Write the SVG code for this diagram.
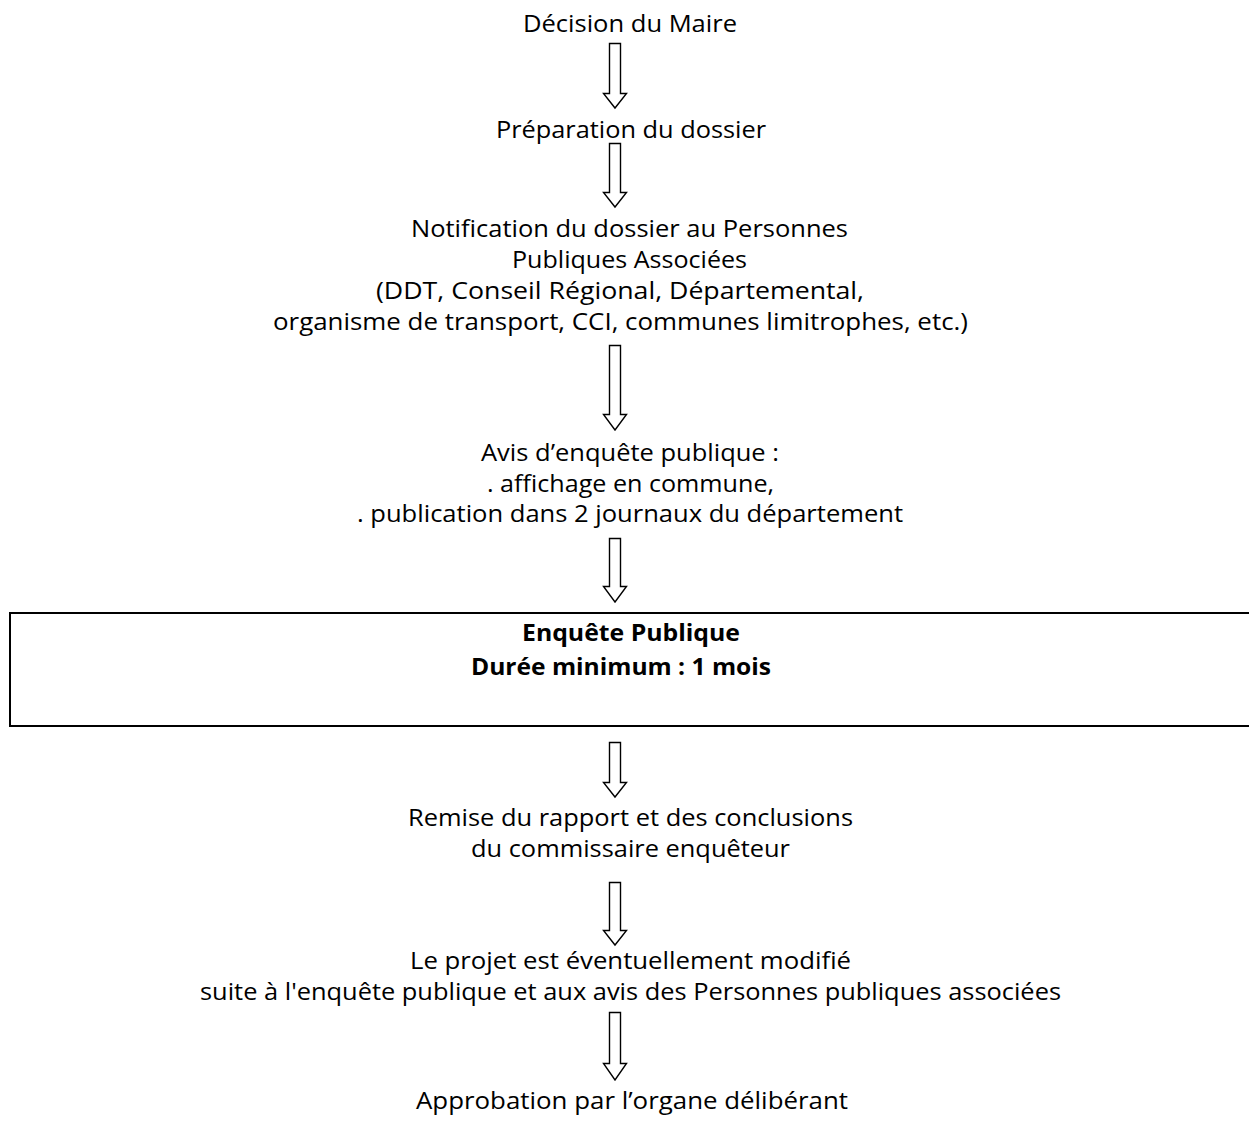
<svg xmlns="http://www.w3.org/2000/svg" width="1249" height="1122" viewBox="0 0 1249 1122">
<style>
  text { font-family: "Open Sans", "Liberation Sans", sans-serif; font-size: 24px; fill: #000; }
  .b { font-weight: bold; }
  .arrow { fill: #fff; stroke: #000; stroke-width: 1.4; stroke-linejoin: miter; }
  .box { fill: none; stroke: #000; stroke-width: 2; }
</style>
<rect width="1249" height="1122" fill="#fff"/>
<g id="n1"><text x="523" y="32" textLength="214" lengthAdjust="spacingAndGlyphs">Décision du Maire</text></g>
<g id="n2"><text x="496" y="138" textLength="270" lengthAdjust="spacingAndGlyphs">Préparation du dossier</text></g>
<g id="n3">
  <text x="411" y="237" textLength="437" lengthAdjust="spacingAndGlyphs">Notification du dossier au Personnes</text>
  <text x="512" y="268" textLength="235" lengthAdjust="spacingAndGlyphs">Publiques Associées</text>
  <text x="376" y="299" textLength="488" lengthAdjust="spacingAndGlyphs">(DDT, Conseil Régional, Départemental,</text>
  <text x="273" y="330" textLength="695" lengthAdjust="spacingAndGlyphs">organisme de transport, CCI, communes limitrophes, etc.)</text>
</g>
<g id="n4">
  <text x="481" y="461" textLength="298" lengthAdjust="spacingAndGlyphs">Avis d’enquête publique :</text>
  <text x="487" y="492" textLength="287" lengthAdjust="spacingAndGlyphs">. affichage en commune,</text>
  <text x="357" y="522" textLength="546" lengthAdjust="spacingAndGlyphs">. publication dans 2 journaux du département</text>
</g>
<g id="n5">
  <rect class="box" x="10" y="613" width="1260" height="113"/>
  <text class="b" x="522" y="641" textLength="218" lengthAdjust="spacingAndGlyphs">Enquête Publique</text>
  <text class="b" x="471" y="675" textLength="300" lengthAdjust="spacingAndGlyphs">Durée minimum : 1 mois</text>
</g>
<g id="n6">
  <text x="408" y="826" textLength="445" lengthAdjust="spacingAndGlyphs">Remise du rapport et des conclusions</text>
  <text x="471" y="857" textLength="319" lengthAdjust="spacingAndGlyphs">du commissaire enquêteur</text>
</g>
<g id="n7">
  <text x="410" y="969" textLength="441" lengthAdjust="spacingAndGlyphs">Le projet est éventuellement modifié</text>
  <text x="200" y="1000" textLength="861" lengthAdjust="spacingAndGlyphs">suite à l'enquête publique et aux avis des Personnes publiques associées</text>
</g>
<g id="n8"><text x="416" y="1109" textLength="432" lengthAdjust="spacingAndGlyphs">Approbation par l’organe délibérant</text></g>
<g id="connectors">
  <path class="arrow" d="M609.5,43.5 V93.5 H603.5 L615,108 L626.5,93.5 H620.5 V43.5 Z"/>
  <path class="arrow" d="M609.5,143.5 V192.5 H603.5 L615,207 L626.5,192.5 H620.5 V143.5 Z"/>
  <path class="arrow" d="M609.5,345.5 V414.5 H603.5 L615,430 L626.5,414.5 H620.5 V345.5 Z"/>
  <path class="arrow" d="M609.5,538.5 V586.5 H603.5 L615,602 L626.5,586.5 H620.5 V538.5 Z"/>
  <path class="arrow" d="M609.5,742.5 V782.5 H603.5 L615,797 L626.5,782.5 H620.5 V742.5 Z"/>
  <path class="arrow" d="M609.5,882.5 V930.5 H603.5 L615,945 L626.5,930.5 H620.5 V882.5 Z"/>
  <path class="arrow" d="M609.5,1012.5 V1063.5 H603.5 L615,1080 L626.5,1063.5 H620.5 V1012.5 Z"/>
</g>
</svg>
